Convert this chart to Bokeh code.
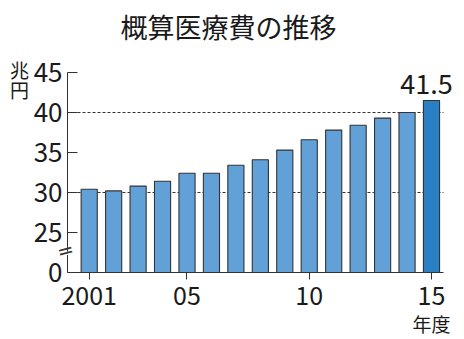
from bokeh.plotting import figure
from bokeh.models import FixedTicker, Label, BoxAnnotation, Range1d, ColumnDataSource
from bokeh.embed import file_html
from bokeh.resources import INLINE

# ---- data ----
years = [2001, 2002, 2003, 2004, 2005, 2006, 2007, 2008, 2009, 2010, 2011, 2012, 2013, 2014, 2015]
values = [30.4, 30.2, 30.8, 31.4, 32.4, 32.4, 33.4, 34.1, 35.3, 36.6, 37.8, 38.4, 39.3, 40.0, 41.5]
bar_colors = ["#62a0d8"] * 14 + ["#2a80c4"]
x_ticks = [2001, 2005, 2010, 2015]
x_tick_labels = ["2001", "05", "10", "15"]
y_ticks = [20, 25, 30, 35, 40, 45]
y_tick_labels = ["0", "25", "30", "35", "40", "45"]
grid_values = [30, 40]
baseline = 20
title_text = "概算医療費の推移"
unit_chars = ["兆", "円"]
year_unit_text = "年度"
last_label = "41.5"

FONT = "Noto Sans CJK JP"
INK = "#1a1a1a"

# full-canvas frame; axes are pinned inside it
x_start, x_end = 1997.372, 2016.35
y_start, y_end = 11.625, 54.0
axis_x = 2000.1125          # where the value axis sits
axis_x_end = 2015.49        # end of the category axis line

p = figure(width=464, height=339, output_backend="svg", toolbar_location=None,
           x_range=Range1d(x_start, x_end), y_range=Range1d(y_start, y_end),
           min_border=0, min_border_left=0, min_border_right=0,
           min_border_top=0, min_border_bottom=0)
p.outline_line_color = None
p.background_fill_color = "white"
p.border_fill_color = "white"
p.xgrid.visible = False
p.ygrid.visible = False

# dashed reference lines
p.segment(x0=[axis_x] * len(grid_values), x1=[axis_x_end] * len(grid_values),
          y0=grid_values, y1=grid_values, line_color="#333333", line_dash="3 2", line_width=1)

src = ColumnDataSource(dict(x=years, top=values, color=bar_colors))
p.vbar(x="x", top="top", bottom=baseline, width=0.66, fill_color="color",
       line_color="#333333", line_width=1.1, source=src)

# y axis
ya = p.yaxis[0]
ya.fixed_location = axis_x
ya.ticker = FixedTicker(ticks=y_ticks)
ya.major_label_overrides = {t: l for t, l in zip(y_ticks, y_tick_labels)}
ya.bounds = (20, 45)
ya.major_tick_in = 10
ya.major_tick_out = 0
ya.minor_tick_line_color = None
ya.axis_line_color = "#333333"
ya.major_tick_line_color = "#333333"
ya.major_label_text_font = FONT
ya.major_label_text_font_size = "26px"
ya.major_label_text_color = INK
ya.major_label_standoff = 5

# x axis
xa = p.xaxis[0]
xa.fixed_location = baseline
xa.ticker = FixedTicker(ticks=x_ticks)
xa.major_label_overrides = {t: l for t, l in zip(x_ticks, x_tick_labels)}
xa.bounds = (axis_x, axis_x_end)
xa.major_tick_in = 0
xa.major_tick_out = 7
xa.minor_tick_line_color = None
xa.axis_line_color = "#333333"
xa.major_tick_line_color = "#333333"
xa.major_label_text_font = FONT
xa.major_label_text_font_size = "25px"
xa.major_label_text_color = INK
xa.major_label_standoff = 6

# title
p.add_layout(Label(x=228, y=313, x_units="screen", y_units="screen", text=title_text,
                   text_align="center", text_baseline="middle", text_font=FONT,
                   text_font_size="27px", text_color=INK))
# unit, stacked vertically
for ch, yy in zip(unit_chars, [270, 250]):
    p.add_layout(Label(x=19, y=yy, x_units="screen", y_units="screen", text=ch,
                       text_align="center", text_baseline="middle", text_font=FONT,
                       text_font_size="19px", text_color=INK))
# last value, floated above its bar
p.add_layout(Label(x=years[-1], y=values[-1] + 2.1, x_offset=-5, text=last_label,
                   text_align="center", text_baseline="alphabetic", text_font=FONT,
                   text_font_size="27px", text_color=INK))
# year unit
p.add_layout(Label(x=years[-1], y=16, y_units="screen", text=year_unit_text,
                   text_align="center", text_baseline="middle", text_font=FONT,
                   text_font_size="19px", text_color=INK))
# axis break
p.add_layout(BoxAnnotation(left=axis_x - 0.15, right=axis_x + 0.15, bottom=22.2, top=22.6,
                           fill_color="white", fill_alpha=1, line_color=None))
p.add_layout(Label(x=65, y=89, x_units="screen", y_units="screen", text="=", angle=0.25,
                   text_align="center", text_baseline="middle", text_font="DejaVu Sans",
                   text_font_size="20px", text_color="#333333"))

open("out.html", "w").write(file_html(p, INLINE))
